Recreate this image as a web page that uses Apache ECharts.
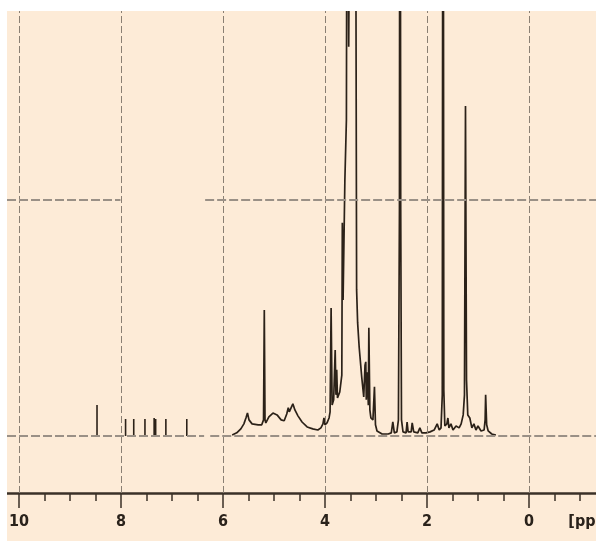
<!DOCTYPE html>
<html><head><meta charset="utf-8">
<script src="https://cdn.jsdelivr.net/npm/echarts@6/dist/echarts.min.js"></script>
<style>html,body{margin:0;padding:0;background:#fff;}#c{position:absolute;left:7px;top:11px;width:589px;height:530px;}</style>
</head><body><div id="c"></div><script>
// axis ticks (ppm)
const majorTicks = [0, 2, 4, 6, 8, 10];
const minorTicks = [-1, -0.5, 0.5, 1, 1.5, 2.5, 3, 3.5, 4.5, 5, 5.5, 6.5, 7, 7.5, 8.5, 9, 9.5];
const unitLabel = '[ppm]';
const unitPos = -1.25;

// aromatic singlets (ppm, relative intensity)
const aromPpm = [8.47, 7.91, 7.75, 7.53, 7.35, 7.32, 7.12, 6.71];
const aromInt = [13.1, 7.2, 7.2, 7.2, 7.6, 7.2, 7.2, 7.2];

// main trace (ppm, relative intensity)
const tracePpm = [5.82,5.73,5.65,5.59,5.55,5.52,5.49,5.43,5.31,5.24,5.205,5.19,5.176,5.16,5.10,5.02,4.94,4.86,4.80,4.75,4.72,4.70,4.63,4.59,4.53,4.45,4.35,4.24,4.14,4.08,4.04,4.02,4.00,3.96,3.92,3.90,3.88,3.86,3.83,3.80,3.785,3.77,3.755,3.71,3.67,3.66,3.645,3.61,3.58,3.565,3.535,3.50,3.45,3.40,3.38,3.36,3.33,3.28,3.24,3.215,3.20,3.19,3.17,3.15,3.14,3.12,3.10,3.06,3.03,3.01,2.98,2.88,2.76,2.70,2.67,2.64,2.59,2.56,2.54,2.53,2.515,2.50,2.47,2.41,2.39,2.37,2.31,2.29,2.26,2.18,2.14,2.10,2.02,1.94,1.86,1.80,1.76,1.725,1.70,1.685,1.67,1.65,1.61,1.59,1.57,1.53,1.49,1.43,1.37,1.33,1.29,1.265,1.245,1.225,1.20,1.16,1.12,1.08,1.04,1.00,0.94,0.88,0.86,0.85,0.83,0.80,0.73,0.65];
const traceInt = [0.4,1.3,3.0,5.1,7.6,9.7,6.8,5.1,4.7,4.7,6.8,53.4,6.8,5.5,8.1,9.7,8.9,6.8,6.4,9.3,11.9,10.2,13.6,11.0,8.5,5.9,3.8,3.0,2.5,3.4,5.1,7.6,4.7,5.5,7.6,10.2,54.2,13.1,15.3,36.4,17.4,28.0,16.1,18.6,25.8,90.3,57.6,108.5,134,300,165,300,220,260,62,48,37.7,25,16.5,30,31.4,15.3,27,13,45.8,11,7.6,6.8,20.8,4.7,2.1,0.8,0.8,1.3,5.9,1.3,1.7,6.8,95.8,400,95.8,6.8,1.7,1.3,5.9,1.7,1.7,5.5,1.7,1.3,3.4,1.3,1.3,1.7,2.5,5.1,2.5,3.4,17.4,400,19.5,4.2,5.1,7.6,3.4,5.1,2.5,4.2,3.4,5.1,8.9,17.4,139.8,23.7,8.9,7.6,3.4,5.1,2.5,4.2,2.1,2.5,6.8,17.4,4.7,2.1,0.8,0.4];

// reference levels drawn as dashed lines: [fromPpm, toPpm, level]
const levelSegments = [[10.235, 6.37, 0], [6.25, -1.314, 0], [10.235, 8.01, 100], [6.35, -1.314, 100]];

const traceData = tracePpm.map((p, i) => [p, traceInt[i]]);
const aromData = [];
aromPpm.forEach((p, i) => { aromData.push([p, 0], [p, aromInt[i]], [p, 0], [p - 0.001, '-']); });

const chart = echarts.init(document.getElementById('c'), null, {renderer: 'canvas'});
const axisColor = '#3a3027';
chart.setOption({
  backgroundColor: '#FDEBD7',
  animation: false,
  grid: {left: 0, right: 0, top: 0, bottom: 48, containLabel: false, outerBoundsMode: 'none'},
  xAxis: [{
    type: 'value', min: -1.314, max: 10.235, inverse: true, position: 'bottom',
    axisLine: {show: true, onZero: false, lineStyle: {color: axisColor, width: 2.5}},
    axisTick: {show: true, customValues: majorTicks, length: 15, lineStyle: {color: axisColor, width: 1.5}},
    axisLabel: {show: true, customValues: majorTicks.concat([unitPos]), margin: 21, hideOverlap: false,
      formatter: v => (v === unitPos ? unitLabel : String(v)),
      fontFamily: '"Liberation Sans Narrow", "DejaVu Sans Condensed", sans-serif', fontWeight: 'bold', fontSize: 16, color: '#2a221b'},
    splitLine: {show: false}
  }, {
    type: 'value', min: -1.314, max: 10.235, inverse: true, position: 'bottom',
    axisLine: {show: false, onZero: false},
    axisTick: {show: true, customValues: minorTicks, length: 8, lineStyle: {color: axisColor, width: 1.5}},
    axisLabel: {show: false},
    splitLine: {show: false}
  }],
  yAxis: {type: 'value', min: -24.2, max: 180.1, show: false, splitLine: {show: false}},
  series: [{
    name: 'grid', type: 'line', data: [], z: 1, silent: true,
    markLine: {
      silent: true, symbol: ['none', 'none'], label: {show: false}, animation: false,
      data: majorTicks.map(v => ({xAxis: v, lineStyle: {type: [7, 3], color: '#8a7f73', width: 1}}))
        .concat(levelSegments.map(s => [
          {coord: [s[0], s[2]], lineStyle: {type: [9, 3], color: '#9a9086', width: 2}},
          {coord: [s[1], s[2]]}
        ]))
    }
  }, {
    name: 'aromatic', type: 'line', data: aromData, z: 3, showSymbol: false, symbol: 'none',
    connectNulls: false, silent: true,
    lineStyle: {color: '#2b2118', width: 1.6}
  }, {
    name: 'spectrum', type: 'line', data: traceData, z: 3, showSymbol: false, symbol: 'none',
    silent: true, clip: true,
    lineStyle: {color: '#2b2118', width: 1.7}
  }]
});
</script></body></html>
